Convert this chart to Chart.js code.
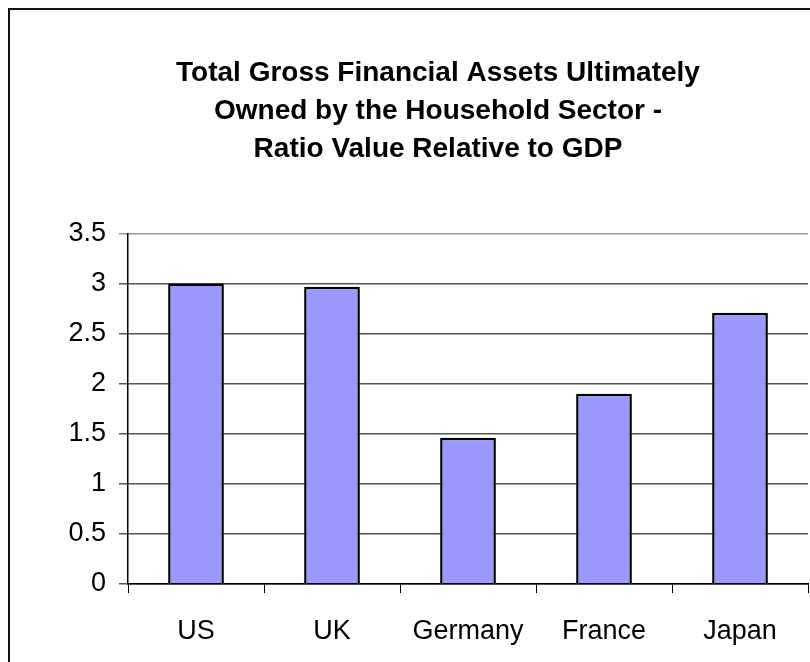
<!DOCTYPE html>
<html>
<head>
<meta charset="utf-8">
<script src="https://cdn.jsdelivr.net/npm/chart.js@4"></script>
<style>
  html, body { margin: 0; padding: 0; background: #fff; }
  body { width: 810px; height: 662px; overflow: hidden; position: relative; }
  #frame { position: absolute; left: 8px; top: 8px; width: 900px; height: 700px; border: 2px solid #111; }
  #assetsChart { position: absolute; left: 0; top: 0; }
</style>
</head>
<body>
<div id="frame"></div>
<canvas id="assetsChart" width="876" height="662"></canvas>
<script>
// values
const countries = ["US", "UK", "Germany", "France", "Japan"];
const ratioToGdp = [3.0, 2.97, 1.46, 1.9, 2.71];
const titleLines = [
    "Total Gross Financial Assets Ultimately",
    "Owned by the Household Sector -",
    "Ratio Value Relative to GDP"
];
const yMin = 0, yMax = 3.5, yStep = 0.5;

Chart.defaults.font.family = "'Liberation Sans', Arial, sans-serif";
Chart.defaults.color = '#000';

const assetsChart = new Chart(document.getElementById('assetsChart'), {
    type: 'bar',
    data: {
        labels: countries,
        datasets: [{
            label: 'Ratio to GDP',
            data: ratioToGdp,
            backgroundColor: '#9999FF',
            borderColor: '#000',
            borderWidth: 2.5,
            barPercentage: 0.41,
            categoryPercentage: 1.0
        }]
    },
    options: {
        responsive: false,
        animation: false,
        layout: {
            padding: { left: 68, right: 68, top: 0, bottom: 0 }
        },
        plugins: {
            legend: { display: false },
            tooltip: { enabled: false },
            title: {
                display: true,
                text: titleLines,
                color: '#000',
                font: { size: 28, weight: 'bold', lineHeight: 1.34 },
                padding: { top: 55, bottom: 66 }
            }
        },
        scales: {
            x: {
                afterFit: (axis) => { axis.height = 78; },
                grid: {
                    drawOnChartArea: false,
                    drawTicks: true,
                    tickLength: 9,
                    color: '#000',
                    offset: true
                },
                border: { color: '#000', width: 1.5 },
                ticks: {
                    font: { size: 27 },
                    padding: 22,
                    color: '#000'
                }
            },
            y: {
                min: yMin,
                max: yMax,
                afterFit: (axis) => { axis.width = 60; },
                grid: {
                    color: (ctx) => ctx.tick && ctx.tick.value === yMax ? '#999' : '#555',
                    lineWidth: 1.5,
                    tickLength: 9
                },
                border: { color: '#000', width: 1.5 },
                ticks: {
                    stepSize: yStep,
                    font: { size: 27 },
                    padding: 13,
                    color: '#000',
                    callback: (v) => String(v)
                }
            }
        }
    }
});
</script>
</body>
</html>
